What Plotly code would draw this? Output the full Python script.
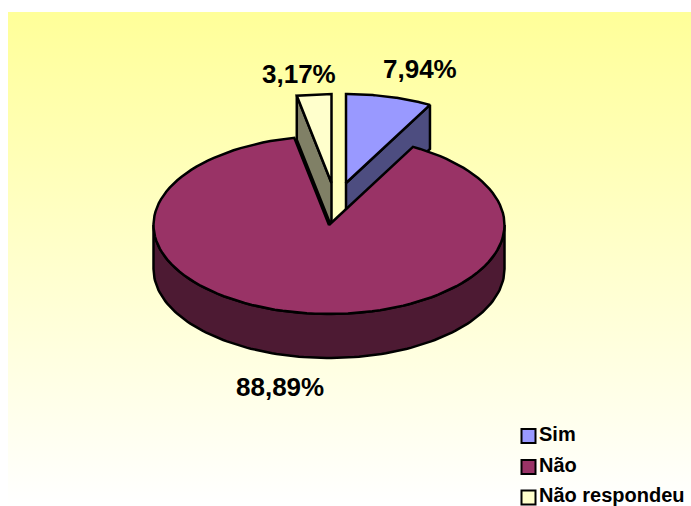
import numpy as np
import plotly.graph_objects as go

categories = ["Sim", "Não", "Não respondeu"]
percent_values = [7.94, 88.89, 3.17]
top_colors = ["#9999FF", "#993366", "#FFFFCC"]
side_colors = ["#4D4D80", "#4D1A33", "#808066"]

W, H = 691, 506
RX, RY, DEPTH = 175.5, 89, 44
CENTRES = [(346, 183), (329, 225), (331.5, 183)]
FONT = "Liberation Sans, Arial, sans-serif"
EDGE = dict(color="black", width=2.5)

fractions = np.array(percent_values) / sum(percent_values)
ends = np.cumsum(fractions) * 360
starts = ends - fractions * 360


def rim(c, a, b, drop=0.0, n=120):
    t = np.radians(np.linspace(a, b, n))
    return c[0] + RX * np.sin(t), c[1] - RY * np.cos(t) + drop


def poly(x, y, color, line=EDGE):
    return go.Scatter(x=np.append(x, x[0]), y=np.append(y, y[0]), mode="lines",
                      fill="toself", fillcolor=color, line=line,
                      hoverinfo="skip", showlegend=False)


def cut_face(c, angle, color):
    px, py = rim(c, angle, angle, n=1)
    return poly(np.array([c[0], px[0], px[0], c[0]]),
                np.array([c[1], py[0], py[0] + DEPTH, c[1] + DEPTH]), color)


def top_face(c, a, b, color, n=120):
    ax, ay = rim(c, a, b, n=n)
    return poly(np.concatenate([[c[0]], ax]), np.concatenate([[c[1]], ay]), color)


fig = go.Figure()

# chart-area background with a vertical gradient
fig.add_trace(go.Scatter(
    x=[8, W, W, 8, 8], y=[12, 12, H, H, 12], mode="lines", fill="toself",
    line=dict(width=0), hoverinfo="skip", showlegend=False,
    fillgradient=dict(type="vertical",
                      colorscale=[[0, "#FFFFFF"], [1, "#FFFF99"]])))

# "Sim" wedge: radial cut face and outer wall
c = CENTRES[0]
ox, oy = rim(c, starts[0], ends[0])
fig.add_trace(poly(np.concatenate([ox[-1:], ox[-1:], [c[0], c[0]]]),
                   np.concatenate([oy[-1:], oy[-1:] + DEPTH, [c[1] + DEPTH, c[1]]]),
                   side_colors[0]))
fig.add_trace(top_face(c, starts[0], ends[0], top_colors[0]))

# "Não respondeu" wedge
c = CENTRES[2]
fig.add_trace(cut_face(c, starts[2], side_colors[2]))
fig.add_trace(top_face(c, starts[2], ends[2], top_colors[2], n=2))

# "Não" wedge: visible wall then top
c = CENTRES[1]
ax, ay = rim(c, 90, 270)
bx, by = rim(c, 270, 90, DEPTH)
fig.add_trace(poly(np.concatenate([ax, bx]), np.concatenate([ay, by]), side_colors[1]))
fig.add_trace(top_face(c, starts[1], ends[1], top_colors[1]))

# data labels
label_pos = [(420, 69), (280, 387), (299, 74)]
for v, (lx, ly) in zip(percent_values, label_pos):
    fig.add_annotation(x=lx, y=ly, text="<b>" + f"{v:.2f}".replace(".", ",") + "%</b>",
                       showarrow=False, xanchor="center", yanchor="middle",
                       font=dict(family=FONT, size=26, color="black"))

# legend
legend_y = [436, 467, 497.5]
fig.add_trace(go.Scatter(
    x=[528.5] * 3, y=legend_y, mode="markers",
    marker=dict(symbol="square", size=14, color=top_colors,
                line=dict(color="black", width=2)),
    hoverinfo="skip", showlegend=False, cliponaxis=False))
for name, ly in zip(categories, legend_y):
    fig.add_annotation(x=537, y=ly - 2.5, text="<b>" + name + "</b>", showarrow=False,
                       xanchor="left", yanchor="middle",
                       font=dict(family=FONT, size=20, color="black"))

fig.update_layout(
    width=W, height=H, margin=dict(l=0, r=0, t=0, b=0),
    paper_bgcolor="white", plot_bgcolor="white", showlegend=False,
    xaxis=dict(range=[0, W], visible=False, fixedrange=True),
    yaxis=dict(range=[H, 0], visible=False, fixedrange=True),
)
fig.write_html("out.html", config=dict(displayModeBar=False),
               post_script="document.body.style.margin='0';document.body.style.overflow='hidden';")
